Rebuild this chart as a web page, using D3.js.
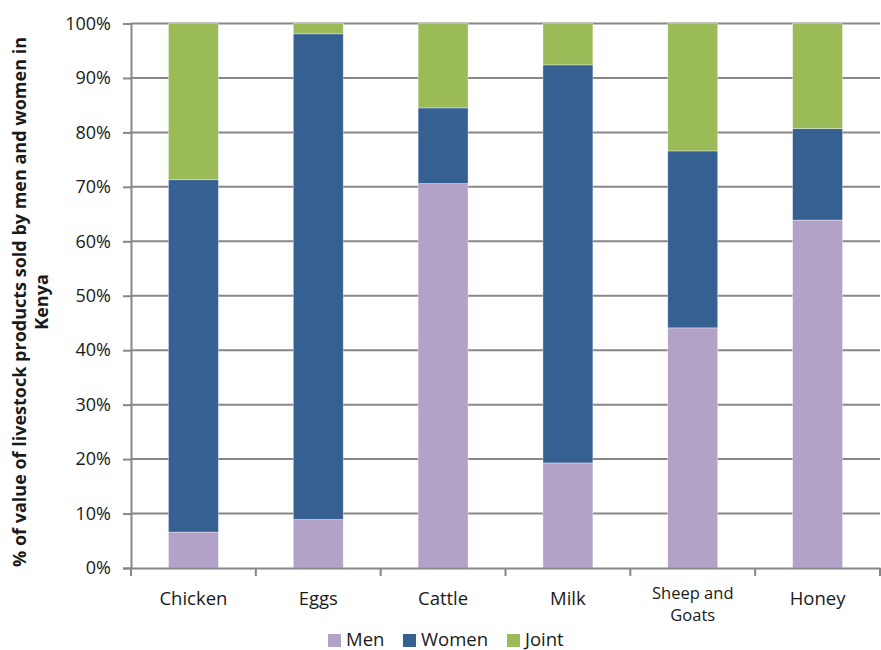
<!DOCTYPE html>
<html>
<head>
<meta charset="utf-8">
<script src="https://cdn.jsdelivr.net/npm/d3@7"></script>
<style>
  html, body { margin: 0; padding: 0; background: #fff; }
  svg text { font-family: "Open Sans", Lato, sans-serif; fill: #1a1a1a; }
</style>
</head>
<body>
<svg id="chart" width="881" height="650"></svg>
<script>
// Share of livestock product value sold, by who sells it (%)
const categories = ["Chicken", "Eggs", "Cattle", "Milk", "Sheep and Goats", "Honey"];
const categoryLines = [["Chicken"], ["Eggs"], ["Cattle"], ["Milk"], ["Sheep and", "Goats"], ["Honey"]];
const seriesNames = ["Men", "Women", "Joint"];
const men   = [6.6, 8.9, 70.6, 19.3, 44.1, 63.9];
const women = [64.7, 89.2, 13.9, 73.1, 32.5, 16.8];
const joint = [28.7, 1.9, 15.5, 7.6, 23.4, 19.3];
const yTicks = [0, 10, 20, 30, 40, 50, 60, 70, 80, 90, 100];
const colors = ["#B3A2C7", "#366092", "#9BBB59"];

const svg = d3.select("#chart");
const m = { left: 131, right: 880, top: 23.5, bottom: 568 };

const rows = categories.map((c, i) => ({ cat: c, Men: men[i], Women: women[i], Joint: joint[i] }));
const stack = d3.stack().keys(seriesNames)(rows);

const x = d3.scaleBand().domain(categories).range([m.left, m.right]).paddingInner(0.6).paddingOuter(0.3);
const xTick = d3.scaleBand().domain(categories).range([m.left, m.right]);
const y = d3.scaleLinear().domain([0, 100]).range([m.bottom, m.top]);

// horizontal gridlines
svg.append("g").selectAll("line").data(yTicks.filter(d => d > 0)).join("line")
  .attr("x1", m.left).attr("x2", m.right)
  .attr("y1", d => y(d)).attr("y2", d => y(d))
  .attr("stroke", "#878787").attr("stroke-width", 2);

// stacked bars
svg.append("g").selectAll("g").data(stack).join("g")
  .attr("fill", (d, i) => colors[i])
  .selectAll("rect").data(d => d).join("rect")
  .attr("x", d => x(d.data.cat))
  .attr("width", x.bandwidth())
  .attr("y", d => y(d[1]))
  .attr("height", d => y(d[0]) - y(d[1]))
  .attr("stroke", "rgba(255,255,255,0.6)").attr("stroke-width", 0.6);

// y axis
const yAxis = svg.append("g").attr("transform", `translate(${m.left},0)`)
  .call(d3.axisLeft(y).tickValues(yTicks).tickFormat(d => d + "%").tickSize(8).tickPadding(12));
yAxis.select(".domain").attr("stroke", "#878787").attr("stroke-width", 2);
yAxis.selectAll(".tick line").attr("stroke", "#878787").attr("stroke-width", 2);
yAxis.selectAll(".tick text").style("font-size", "18px").attr("fill", "#1a1a1a");

// x axis
const xAxis = svg.append("g").attr("transform", `translate(0,${m.bottom})`)
  .call(d3.axisBottom(xTick).tickSize(0).tickFormat(""));
xAxis.select(".domain").attr("stroke", "#878787").attr("stroke-width", 2);
xAxis.selectAll(".tick").remove();
const bounds = categories.map(c => xTick(c)).concat([m.right]);
xAxis.selectAll("line.sep").data(bounds).join("line").attr("class", "sep")
  .attr("x1", d => d).attr("x2", d => d).attr("y1", 0).attr("y2", 8)
  .attr("stroke", "#878787").attr("stroke-width", 2);

// category labels
const lab = svg.append("g").selectAll("text").data(categories).join("text")
  .attr("text-anchor", "middle")
  .attr("x", d => x(d) + x.bandwidth() / 2)
  .style("font-size", "18.5px");
lab.each(function(d, i) {
  const lines = categoryLines[i];
  const t = d3.select(this);
  if (lines.length === 1) {
    t.append("tspan").attr("x", x(d) + x.bandwidth() / 2).attr("y", 605).text(lines[0]);
  } else {
    t.style("font-size", "16.5px");
    lines.forEach((l, k) => t.append("tspan").attr("x", x(d) + x.bandwidth() / 2).attr("y", 599 + k * 22).text(l));
  }
});

// y axis title
const title = svg.append("text")
  .attr("transform", "translate(0,302) rotate(-90)")
  .attr("text-anchor", "middle")
  .style("font-size", "18px").style("font-weight", "bold");
title.append("tspan").attr("x", 0).attr("y", 26).text("% of value of livestock products sold by men and women in");
title.append("tspan").attr("x", 0).attr("y", 48).text("Kenya");

// legend
const legendX = [328, 403, 507];
const lg = svg.append("g").selectAll("g").data(seriesNames).join("g")
  .attr("transform", (d, i) => `translate(${legendX[i]},634)`);
lg.append("rect").attr("width", 13).attr("height", 13).attr("fill", (d, i) => colors[i]);
lg.append("text").attr("x", 18).attr("y", 12).style("font-size", "18.5px").text(d => d);
</script>
</body>
</html>
